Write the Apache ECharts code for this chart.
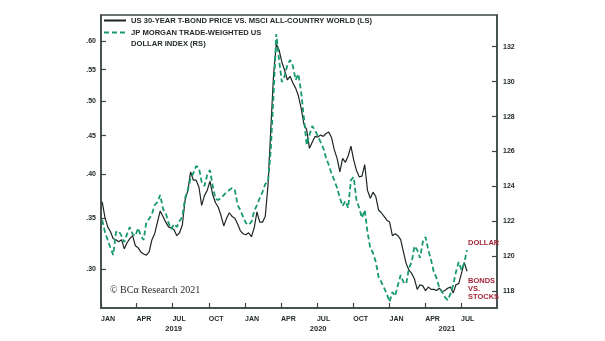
<!DOCTYPE html>
<html>
<head>
<meta charset="utf-8">
<script src="https://cdn.jsdelivr.net/npm/echarts@6/dist/echarts.min.js"></script>
<style>
  html, body { margin: 0; padding: 0; background: #ffffff; }
  #chart { width: 605px; height: 341px; }
</style>
</head>
<body>
<div id="chart"></div>
<script>
// Weekly observations, first week ending Friday 4 Jan 2019
const firstWeek = [2019, 0, 4];

// US 30-year T-bond price vs. MSCI All-Country World (left scale, log)
const bondStockRatio = [
  0.368, 0.351, 0.341, 0.336, 0.329, 0.328, 0.326, 0.328, 0.319, 0.325,
  0.329, 0.332, 0.322, 0.320, 0.316, 0.314, 0.313, 0.316, 0.328, 0.334,
  0.346, 0.358, 0.352, 0.346, 0.341, 0.340, 0.338, 0.332, 0.335, 0.343,
  0.370, 0.381, 0.403, 0.393, 0.393, 0.385, 0.364, 0.375, 0.381, 0.392,
  0.376, 0.367, 0.362, 0.353, 0.342, 0.350, 0.356, 0.352, 0.350, 0.344,
  0.337, 0.334, 0.333, 0.335, 0.331, 0.340, 0.357, 0.346, 0.346, 0.352,
  0.387, 0.458, 0.541, 0.595, 0.584, 0.563, 0.549, 0.533, 0.539, 0.528,
  0.520, 0.508, 0.489, 0.466, 0.458, 0.433, 0.441, 0.449, 0.448, 0.451,
  0.449, 0.453, 0.455, 0.447, 0.431, 0.420, 0.403, 0.420, 0.415, 0.423,
  0.436, 0.418, 0.405, 0.397, 0.398, 0.412, 0.381, 0.372, 0.379, 0.374,
  0.359, 0.356, 0.352, 0.348, 0.346, 0.332, 0.334, 0.332, 0.328, 0.316,
  0.305, 0.299, 0.296, 0.291, 0.282, 0.286, 0.285, 0.281, 0.284, 0.282,
  0.282, 0.281, 0.283, 0.280, 0.281, 0.283, 0.284, 0.279, 0.286, 0.287,
  0.296, 0.306, 0.298
];

// JP Morgan trade-weighted US dollar index (right scale)
const dollarIndex = [
  122.08, 121.39, 120.94, 120.48, 120.08, 121.39, 121.45, 121.17, 120.82, 121.28,
  121.68, 121.28, 121.17, 121.62, 121.17, 120.94, 121.97, 122.14, 122.42, 122.94,
  123.11, 123.51, 122.71, 122.48, 121.91, 121.57, 121.85, 121.68, 122.02, 122.25,
  123.34, 123.80, 124.49, 124.77, 125.17, 125.06, 124.26, 124.03, 124.66, 124.94,
  124.03, 123.28, 123.23, 123.34, 123.51, 123.68, 123.80, 123.91, 123.80, 122.94,
  122.65, 122.25, 121.91, 121.80, 121.97, 122.59, 122.94, 123.34, 123.68, 124.14,
  124.26, 126.09, 129.24, 132.73, 131.25, 129.98, 130.32, 130.95, 131.24, 130.90,
  130.10, 130.44, 129.41, 127.91, 126.37, 126.95, 127.46, 127.23, 126.89, 126.55,
  126.20, 125.63, 125.23, 124.72, 124.37, 123.91, 123.34, 122.88, 123.17, 122.77,
  124.37, 124.54, 123.23, 122.77, 122.20, 122.65, 121.39, 120.48, 120.19, 119.68,
  118.82, 118.53, 118.19, 117.85, 117.39, 117.96, 117.73, 118.36, 118.93, 118.53,
  118.42, 119.33, 119.68, 120.59, 120.36, 119.91, 120.82, 121.11, 120.36, 119.79,
  119.10, 118.76, 118.19, 117.96, 117.67, 117.50, 117.85, 118.36, 119.10, 119.68,
  119.22, 119.62, 120.36
];

// Axis ticks
const leftTicks = [0.30, 0.35, 0.40, 0.45, 0.50, 0.55, 0.60];
const rightTicks = [118, 120, 122, 124, 126, 128, 130, 132];
const quarterTicks = [
  '2019-01-01', '2019-04-01', '2019-07-01', '2019-10-01',
  '2020-01-01', '2020-04-01', '2020-07-01', '2020-10-01',
  '2021-01-01', '2021-04-01', '2021-07-01'
];
const monthNames = ['JAN', 'APR', 'JUL', 'OCT'];
const yearLabelDates = ['2019-07-04', '2020-07-04', '2021-05-26'];

const bondName = 'US 30-YEAR T-BOND PRICE VS. MSCI ALL-COUNTRY WORLD (LS)';
const dollarName = 'JP MORGAN TRADE-WEIGHTED US DOLLAR INDEX (RS)';

function toTime(s) {
  const p = s.split('-').map(Number);
  return new Date(p[0], p[1] - 1, p[2]).getTime();
}
const weekDates = bondStockRatio.map((_, i) =>
  new Date(firstWeek[0], firstWeek[1], firstWeek[2] + 7 * i).getTime());

const FONT = 'Liberation Sans, Arial, sans-serif';
const AXIS_COLOR = '#3b4848';
const TEXT_COLOR = '#232a2a';
const RED = '#a3283a';
const GREEN = '#17996f';
const BLACK = '#1d2525';
const X_MIN = toTime('2019-01-01');
const X_MAX = toTime('2021-09-30');

const chart = echarts.init(document.getElementById('chart'), null, { renderer: 'canvas' });

chart.setOption({
  animation: false,
  backgroundColor: '#ffffff',
  grid: {
    left: 101, right: 108, top: 15, bottom: 33,
    show: true, borderColor: AXIS_COLOR, borderWidth: 1.5, backgroundColor: 'transparent'
  },
  legend: {
    left: 103, top: 15, orient: 'vertical',
    itemWidth: 22, itemHeight: 8, itemGap: -10, padding: 0,
    itemStyle: { opacity: 0 },
    data: [bondName, dollarName],
    // the dollar entry wraps onto a second line; the leading break keeps
    // its first line level with the dashed key
    formatter: name => name === dollarName
      ? '\nJP MORGAN TRADE-WEIGHTED US\nDOLLAR INDEX (RS)' : name,
    textStyle: {
      fontFamily: FONT, fontWeight: 'bold', fontSize: 7.6, lineHeight: 11, color: TEXT_COLOR
    },
    selectedMode: false
  },
  xAxis: [
    {
      type: 'value', min: X_MIN, max: X_MAX,
      axisLine: { lineStyle: { color: AXIS_COLOR, width: 1.5 } },
      axisTick: { inside: true, length: 5, customValues: quarterTicks.map(toTime),
        lineStyle: { color: AXIS_COLOR, width: 1.2 } },
      axisLabel: {
        customValues: quarterTicks.map(toTime),
        formatter: v => monthNames[Math.floor(new Date(v).getMonth() / 3)],
        align: 'left', margin: 8,
        fontFamily: FONT, fontWeight: 'bold', fontSize: 7, color: TEXT_COLOR
      },
      splitLine: { show: false }
    },
    {
      type: 'value', position: 'bottom', min: X_MIN, max: X_MAX,
      axisLine: { show: false }, axisTick: { show: false },
      axisLabel: {
        customValues: yearLabelDates.map(toTime),
        formatter: v => String(new Date(v).getFullYear()),
        margin: 17,
        fontFamily: FONT, fontWeight: 'bold', fontSize: 7.5, color: TEXT_COLOR
      },
      splitLine: { show: false }
    }
  ],
  yAxis: [
    {
      type: 'log', position: 'left',
      min: 0.2665, max: 0.6494,
      axisLine: { show: true, lineStyle: { color: AXIS_COLOR, width: 1.5 } },
      axisTick: { show: true, inside: true, length: 5, customValues: leftTicks,
        lineStyle: { color: AXIS_COLOR, width: 1.2 } },
      axisLabel: {
        customValues: leftTicks,
        formatter: v => Number(v).toFixed(2).replace(/^0/, ''),
        margin: 5,
        fontFamily: FONT, fontWeight: 'bold', fontSize: 7, color: TEXT_COLOR
      },
      splitLine: { show: false }, minorTick: { show: false }
    },
    {
      type: 'value', position: 'right',
      min: 117.044, max: 133.816,
      axisLine: { show: true, lineStyle: { color: AXIS_COLOR, width: 1.5 } },
      axisTick: { show: true, inside: true, length: 5, customValues: rightTicks,
        lineStyle: { color: AXIS_COLOR, width: 1.2 } },
      axisLabel: {
        customValues: rightTicks,
        margin: 6,
        fontFamily: FONT, fontWeight: 'bold', fontSize: 7, color: TEXT_COLOR
      },
      splitLine: { show: false }
    }
  ],
  series: [
    {
      name: bondName, type: 'line', xAxisIndex: 0, yAxisIndex: 0,
      symbol: 'none',
      data: weekDates.map((t, i) => [t, bondStockRatio[i]]),
      lineStyle: { color: BLACK, width: 1.2 },
      itemStyle: { color: BLACK },
      endLabel: {
        show: true, formatter: 'BONDS\nVS.\nSTOCKS',
        distance: 1, offset: [0, 18],
        fontFamily: FONT, fontWeight: 'bold', fontSize: 7.5, lineHeight: 8, color: RED
      },
      z: 2
    },
    {
      name: dollarName, type: 'line', xAxisIndex: 0, yAxisIndex: 1,
      symbol: 'none',
      data: weekDates.map((t, i) => [t, dollarIndex[i]]),
      lineStyle: { color: GREEN, width: 1.8, type: [5, 3] },
      itemStyle: { color: GREEN },
      endLabel: {
        show: true, formatter: 'DOLLAR',
        distance: 1, offset: [0, -7],
        fontFamily: FONT, fontWeight: 'bold', fontSize: 7.5, color: RED
      },
      z: 3
    }
  ],
  graphic: [
    {
      type: 'text', left: 110, top: 285,
      style: {
        text: '\u00A9 BC\u03B1 Research 2021',
        font: '10px "Liberation Serif", "DejaVu Serif", serif',
        fill: '#2a2a2a'
      }
    }
  ]
});
</script>
</body>
</html>
